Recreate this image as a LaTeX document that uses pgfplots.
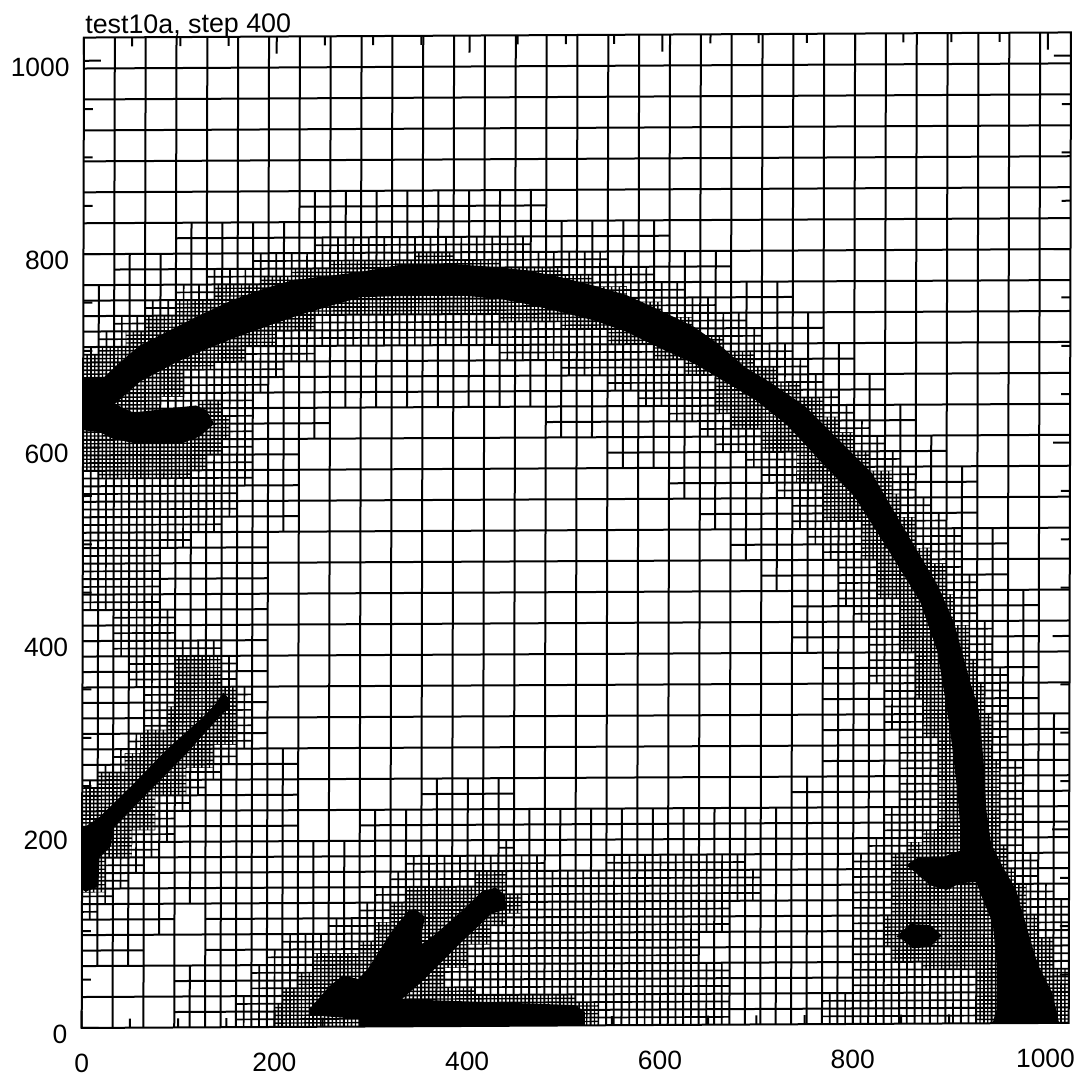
\documentclass[border=0pt]{standalone}
\usepackage{fontspec}
\setmainfont{Liberation Sans}
\usepackage{pgfplots}
\usepackage{pgfplotstable}
\pgfplotsset{compat=1.18}

% grid line positions per refinement level, len = full domain
\pgfplotstableread[row sep=\\]{pos len\\
4 1024\\ 12 1024\\ 20 1024\\ 28 1024\\ 36 1024\\ 44 1024\\ 52 1024\\ 60 1024\\ 68 1024\\ 76 1024\\ 84 1024\\ 92 1024\\ 100 1024\\ 108 1024\\ 116 1024\\ 124 1024\\
132 1024\\ 140 1024\\ 148 1024\\ 156 1024\\ 164 1024\\ 172 1024\\ 180 1024\\ 188 1024\\ 196 1024\\ 204 1024\\ 212 1024\\ 220 1024\\ 228 1024\\ 236 1024\\ 244 1024\\ 252 1024\\
260 1024\\ 268 1024\\ 276 1024\\ 284 1024\\ 292 1024\\ 300 1024\\ 308 1024\\ 316 1024\\ 324 1024\\ 332 1024\\ 340 1024\\ 348 1024\\ 356 1024\\ 364 1024\\ 372 1024\\ 380 1024\\
388 1024\\ 396 1024\\ 404 1024\\ 412 1024\\ 420 1024\\ 428 1024\\ 436 1024\\ 444 1024\\ 452 1024\\ 460 1024\\ 468 1024\\ 476 1024\\ 484 1024\\ 492 1024\\ 500 1024\\ 508 1024\\
516 1024\\ 524 1024\\ 532 1024\\ 540 1024\\ 548 1024\\ 556 1024\\ 564 1024\\ 572 1024\\ 580 1024\\ 588 1024\\ 596 1024\\ 604 1024\\ 612 1024\\ 620 1024\\ 628 1024\\ 636 1024\\
644 1024\\ 652 1024\\ 660 1024\\ 668 1024\\ 676 1024\\ 684 1024\\ 692 1024\\ 700 1024\\ 708 1024\\ 716 1024\\ 724 1024\\ 732 1024\\ 740 1024\\ 748 1024\\ 756 1024\\ 764 1024\\
772 1024\\ 780 1024\\ 788 1024\\ 796 1024\\ 804 1024\\ 812 1024\\ 820 1024\\ 828 1024\\ 836 1024\\ 844 1024\\ 852 1024\\ 860 1024\\ 868 1024\\ 876 1024\\ 884 1024\\ 892 1024\\
900 1024\\ 908 1024\\ 916 1024\\ 924 1024\\ 932 1024\\ 940 1024\\ 948 1024\\ 956 1024\\ 964 1024\\ 972 1024\\ 980 1024\\ 988 1024\\ 996 1024\\ 1004 1024\\ 1012 1024\\ 1020 1024\\
}\levelfour
\pgfplotstableread[row sep=\\]{pos len\\
8 1024\\ 24 1024\\ 40 1024\\ 56 1024\\ 72 1024\\ 88 1024\\ 104 1024\\ 120 1024\\ 136 1024\\ 152 1024\\ 168 1024\\ 184 1024\\ 200 1024\\ 216 1024\\ 232 1024\\ 248 1024\\
264 1024\\ 280 1024\\ 296 1024\\ 312 1024\\ 328 1024\\ 344 1024\\ 360 1024\\ 376 1024\\ 392 1024\\ 408 1024\\ 424 1024\\ 440 1024\\ 456 1024\\ 472 1024\\ 488 1024\\ 504 1024\\
520 1024\\ 536 1024\\ 552 1024\\ 568 1024\\ 584 1024\\ 600 1024\\ 616 1024\\ 632 1024\\ 648 1024\\ 664 1024\\ 680 1024\\ 696 1024\\ 712 1024\\ 728 1024\\ 744 1024\\ 760 1024\\
776 1024\\ 792 1024\\ 808 1024\\ 824 1024\\ 840 1024\\ 856 1024\\ 872 1024\\ 888 1024\\ 904 1024\\ 920 1024\\ 936 1024\\ 952 1024\\ 968 1024\\ 984 1024\\ 1000 1024\\ 1016 1024\\
}\leveleight
\pgfplotstableread[row sep=\\]{pos len\\
16 1024\\ 48 1024\\ 80 1024\\ 112 1024\\ 144 1024\\ 176 1024\\ 208 1024\\ 240 1024\\ 272 1024\\ 304 1024\\ 336 1024\\ 368 1024\\ 400 1024\\ 432 1024\\ 464 1024\\ 496 1024\\
528 1024\\ 560 1024\\ 592 1024\\ 624 1024\\ 656 1024\\ 688 1024\\ 720 1024\\ 752 1024\\ 784 1024\\ 816 1024\\ 848 1024\\ 880 1024\\ 912 1024\\ 944 1024\\ 976 1024\\ 1008 1024\\
}\levelsixteen
\pgfplotstableread[row sep=\\]{pos len\\
32 1024\\ 64 1024\\ 96 1024\\ 128 1024\\ 160 1024\\ 192 1024\\ 224 1024\\ 256 1024\\ 288 1024\\ 320 1024\\ 352 1024\\ 384 1024\\ 416 1024\\ 448 1024\\ 480 1024\\ 512 1024\\
544 1024\\ 576 1024\\ 608 1024\\ 640 1024\\ 672 1024\\ 704 1024\\ 736 1024\\ 768 1024\\ 800 1024\\ 832 1024\\ 864 1024\\ 896 1024\\ 928 1024\\ 960 1024\\ 992 1024\\
}\levelcoarse

\pgfplotsset{
  gridline/.style={black,line width=1pt,forget plot},
  mask/.style={fill=white,draw=none,even odd rule,unbounded coords=jump,forget plot},
}

\begin{document}
\begin{tikzpicture}
\path[use as bounding box] (0,0) rectangle (541pt,538pt);
% the scanned original sits slightly skewed on the page
\begin{scope}[cm={1,0.0052,0.0023,1,(0pt,0pt)}]
\begin{axis}[
    at={(40.8pt,23.8pt)}, anchor=south west,
    scale only axis, width=493.5pt, height=495.2pt,
    xmin=0, xmax=1024, ymin=0, ymax=1024,
    axis on top,
    axis line style={line width=1pt},
    tick align=inside, tick style={black,line width=1pt},
    major tick length=8.5pt, minor tick length=4.5pt,
    xtick={0,200,400,600,800,1000}, ytick={0,200,400,600,800,1000},
    minor xtick={50,100,150,250,300,350,450,500,550,650,700,750,850,900,950},
    minor ytick={50,100,150,250,300,350,450,500,550,650,700,750,850,900,950},
    /pgf/number format/assume math mode=true,
    /pgf/number format/set thousands separator={},
    tick label style={font=\fontsize{13.2}{15}\selectfont},
    xticklabel style={inner sep=0pt,yshift=-13pt},
    yticklabel style={inner sep=0pt,xshift=-7pt,yshift=-3pt},
    title={test10a, step 400},
    title style={at={(0,1)},anchor=base west,inner sep=0pt,xshift=0.5pt,yshift=-4pt,font=\fontsize{13.4}{15}\selectfont},
]
% finest mesh everywhere, then blanked outside the level-4 zones
\addplot[gridline,line width=0.7pt,ycomb] table[x=pos,y=len] {\levelfour};
\addplot[gridline,line width=0.7pt,xcomb] table[x=len,y=pos] {\levelfour};
\addplot[mask] coordinates {
 (0,0)(1024,0)(1024,1024)(0,1024)(nan,nan)
 (0,576)(16,576)(16,568)(112,568)(112,576)(128,576)(128,592)(144,592)(144,608)(152,608)(152,632)(144,632)(144,648)(120,648)(120,640)(80,640)(80,652)(104,652)(104,680)(136,680)(136,688)(168,688)(168,704)(200,704)(200,720)(240,720)(240,736)(432,736)(432,728)(496,728)(496,720)(544,720)(544,704)(592,704)(592,688)(624,688)(624,672)(656,672)(656,632)(672,632)(672,616)(704,616)(704,592)(740,592)(740,560)(768,560)(768,520)(808,520)(808,480)(824,480)(824,440)(848,440)(848,384)(864,384)(864,336)(872,336)(872,296)(888,296)(888,200)(872,200)(872,188)(856,188)(856,176)(840,176)(840,112)(832,112)(832,80)(840,80)(840,64)(872,64)(872,56)(928,56)(928,0)(1024,0)(1024,56)(1008,56)(1008,88)(992,88)(992,112)(980,112)(980,144)(968,144)(968,160)(960,160)(960,184)(952,184)(952,272)(944,272)(944,320)(936,320)(936,352)(928,352)(928,376)(920,376)(920,412)(904,412)(904,444)(896,444)(896,476)(880,476)(880,492)(864,492)(864,524)(848,524)(848,548)(840,548)(840,572)(816,572)(816,592)(800,592)(800,612)(784,612)(784,628)(768,628)(768,648)(744,648)(744,664)(720,664)(720,680)(696,680)(696,696)(664,696)(664,712)(632,712)(632,732)(600,732)(600,748)(564,748)(564,764)(528,764)(528,776)(496,776)(496,784)(432,784)(432,792)(384,792)(384,800)(344,800)(344,792)(256,792)(256,784)(216,784)(216,776)(184,776)(184,768)(136,768)(136,752)(96,752)(96,736)(64,736)(64,720)(44,720)(44,704)(16,704)(16,696)(0,696)(nan,nan)
 (0,140)(24,140)(24,176)(52,176)(52,204)(76,204)(76,240)(108,240)(108,268)(136,268)(136,292)(160,292)(160,352)(144,352)(144,384)(96,384)(96,332)(88,332)(88,308)(60,308)(60,284)(44,284)(44,264)(16,264)(16,248)(0,248)(nan,nan)
 (536,0)(536,24)(512,24)(512,32)(408,32)(408,40)(376,40)(376,60)(400,60)(400,84)(424,84)(424,104)(440,104)(440,116)(456,116)(456,136)(440,136)(440,160)(408,160)(408,144)(336,144)(336,128)(320,128)(320,108)(304,108)(304,88)(288,88)(288,76)(240,76)(240,56)(224,56)(224,40)(208,40)(208,24)(200,24)(200,0)
};
% level-8 mesh, blanked outside its zones
\addplot[gridline,line width=0.85pt,ycomb] table[x=pos,y=len] {\leveleight};
\addplot[gridline,line width=0.85pt,xcomb] table[x=len,y=pos] {\leveleight};
\addplot[mask] coordinates {
 (0,0)(1024,0)(1024,1024)(0,1024)(nan,nan)
 (0,112)(0,256)(16,256)(16,272)(32,272)(32,288)(48,288)(48,304)(64,304)(64,352)(48,352)(48,384)(32,384)(32,432)(0,432)(0,704)(16,704)(16,720)(32,720)(32,736)(64,736)(64,752)(96,752)(96,768)(128,768)(128,784)(176,784)(176,800)(240,800)(240,816)(464,816)(464,800)(544,800)(544,784)(592,784)(592,768)(624,768)(624,752)(656,752)(656,736)(688,736)(688,720)(704,720)(704,704)(736,704)(736,688)(752,688)(752,672)(768,672)(768,656)(784,656)(784,640)(800,640)(800,624)(816,624)(816,608)(832,608)(832,592)(848,592)(848,576)(864,576)(864,544)(880,544)(880,528)(896,528)(896,512)(912,512)(912,464)(928,464)(928,416)(944,416)(944,368)(960,368)(960,272)(976,272)(976,176)(992,176)(992,144)(1008,144)(1008,128)(1024,128)(1024,0)(768,0)(768,32)(800,32)(800,176)(816,176)(816,192)(832,192)(832,224)(848,224)(848,304)(832,304)(832,352)(816,352)(816,416)(800,416)(800,432)(784,432)(784,480)(768,480)(768,496)(752,496)(752,512)(736,512)(736,544)(720,544)(720,560)(704,560)(704,576)(688,576)(688,592)(656,592)(656,608)(640,608)(640,624)(608,624)(608,640)(576,640)(576,656)(544,656)(544,672)(496,672)(496,688)(432,688)(432,704)(240,704)(240,688)(208,688)(208,672)(192,672)(192,656)(176,656)(176,560)(160,560)(160,528)(144,528)(144,512)(112,512)(112,496)(80,496)(80,432)(96,432)(96,400)(144,400)(144,384)(160,384)(160,352)(176,352)(176,288)(160,288)(160,272)(144,272)(144,256)(128,256)(128,240)(112,240)(112,224)(96,224)(96,192)(80,192)(80,176)(64,176)(64,160)(48,160)(48,144)(32,144)(32,128)(16,128)(16,112)(nan,nan)
 (160,0)(160,32)(176,32)(176,64)(192,64)(192,80)(208,80)(208,96)(256,96)(256,112)(288,112)(288,128)(304,128)(304,144)(320,144)(320,160)(336,160)(336,176)(432,176)(432,192)(448,192)(448,176)(480,176)(480,160)(544,160)(544,176)(688,176)(688,160)(704,160)(704,128)(672,128)(672,96)(640,96)(640,64)(672,64)(672,0)
};
% level-16 mesh, blanked where the cells stay at 32
\addplot[gridline,ycomb] table[x=pos,y=len] {\levelsixteen};
\addplot[gridline,xcomb] table[x=len,y=pos] {\levelsixteen};
\addplot[mask] coordinates {
 (0,864)(1024,864)(1024,1024)(0,1024)(nan,nan)
 (0,832)(224,832)(224,864)(0,864)(nan,nan) (480,832)(1024,832)(1024,864)(480,864)(nan,nan)
 (0,800)(96,800)(96,832)(0,832)(nan,nan) (608,800)(1024,800)(1024,832)(608,832)(nan,nan)
 (0,768)(32,768)(32,800)(0,800)(nan,nan) (672,768)(1024,768)(1024,800)(672,800)(nan,nan)
 (736,736)(1024,736)(1024,768)(736,768)(nan,nan)
 (768,704)(1024,704)(1024,736)(768,736)(nan,nan)
 (800,672)(1024,672)(1024,704)(800,704)(nan,nan)
 (832,640)(1024,640)(1024,672)(832,672)(nan,nan)
 (864,608)(1024,608)(1024,640)(864,640)(nan,nan) (256,608)(480,608)(480,640)(256,640)(nan,nan)
 (896,576)(1024,576)(1024,608)(896,608)(nan,nan) (224,576)(544,576)(544,608)(224,608)(nan,nan)
 (928,544)(1024,544)(1024,576)(928,576)(nan,nan) (224,544)(608,544)(608,576)(224,576)(nan,nan)
 (928,512)(1024,512)(1024,544)(928,544)(nan,nan) (224,512)(640,512)(640,544)(224,544)(nan,nan)
 (960,480)(1024,480)(1024,512)(960,512)(nan,nan) (192,480)(672,480)(672,512)(192,512)(nan,nan)
 (960,448)(1024,448)(1024,480)(960,480)(nan,nan) (192,448)(704,448)(704,480)(192,480)(nan,nan)
 (992,416)(1024,416)(1024,448)(992,448)(nan,nan) (192,416)(736,416)(736,448)(192,448)(nan,nan)
 (992,384)(1024,384)(1024,416)(992,416)(nan,nan) (192,384)(736,384)(736,416)(192,416)(nan,nan)
 (992,352)(1024,352)(1024,384)(992,384)(nan,nan) (192,352)(768,352)(768,384)(192,384)(nan,nan)
 (992,320)(1024,320)(1024,352)(992,352)(nan,nan) (192,320)(768,320)(768,352)(192,352)(nan,nan)
 (192,288)(768,288)(768,320)(192,320)(nan,nan)
 (224,256)(768,256)(768,288)(224,288)(nan,nan)
 (224,224)(352,224)(352,256)(224,256)(nan,nan) (448,224)(736,224)(736,256)(448,256)(nan,nan)
 (224,192)(288,192)(288,224)(224,224)(nan,nan)
 (96,96)(128,96)(128,128)(96,128)(nan,nan)
 (64,64)(128,64)(128,96)(64,96)(nan,nan)
 (0,0)(96,0)(96,64)(0,64)
};
% coarse mesh
\addplot[gridline,ycomb] table[x=pos,y=len] {\levelcoarse};
\addplot[gridline,xcomb] table[x=len,y=pos] {\levelcoarse};
% solid bands where the mesh is too fine to resolve
\addplot[fill=black,draw=none,forget plot] coordinates {
 (0,672)(22,673)(35,685)(44,693)(58,705)(86,719)(120,736)(155,752)(189,764)(217,772)(286,780)(332,788)(383,788)(432,784)(460,781)(494,774)(529,765)(563,755)(598,739)(633,722)(660,703)(686,680)(714,663)(749,639)(783,605)(818,570)(852,512)(887,453)(904,415)(921,353)(930,324)(935,272)(938,221)(943,186)(955,162)(969,138)(987,76)(993,58)(1007,31)(1014,0)(945,0)(949,14)(949,62)(945,103)(935,127)(928,146)(911,145)(897,138)(880,143)(866,155)(855,164)(866,171)(893,172)(912,179)(911,203)(908,238)(902,290)(897,324)(887,384)(869,436)(835,491)(800,546)(766,581)(731,619)(697,646)(662,667)(654,672)(633,684)(598,700)(563,717)(529,729)(494,738)(460,746)(435,751)(396,755)(325,755)(287,754)(224,736)(189,724)(155,712)(120,698)(97,688)(59,668)(33,645)(52,636)(117,643)(128,638)(136,624)(121,611)(103,604)(55,604)(31,609)(17,616)(0,618)
};
\addplot[fill=black,draw=none,forget plot] coordinates {
 (845,90)(859,103)(880,102)(892,91)(880,79)(862,78)(850,88)
};
\addplot[fill=black,draw=none,forget plot] coordinates {
 (0,206)(18,218)(53,252)(87,287)(122,318)(137,333)(146,346)(152,340)(152,330)(143,322)(108,283)(70,245)(32,206)(30,188)(18,176)(17,146)(4,141)(0,143)
};
\addplot[fill=black,draw=none,forget plot] coordinates {
 (236,18)(257,42)(271,53)(287,49)(297,60)(322,99)(339,120)(346,121)(356,113)(353,99)(351,84)(363,92)(391,116)(415,139)(429,143)(439,135)(439,120)(425,116)(391,84)(356,49)(332,28)(512,21)(522,14)(522,0)(288,0)(288,8)(236,12)
};
\end{axis}
\end{scope}
\end{tikzpicture}
\end{document}
